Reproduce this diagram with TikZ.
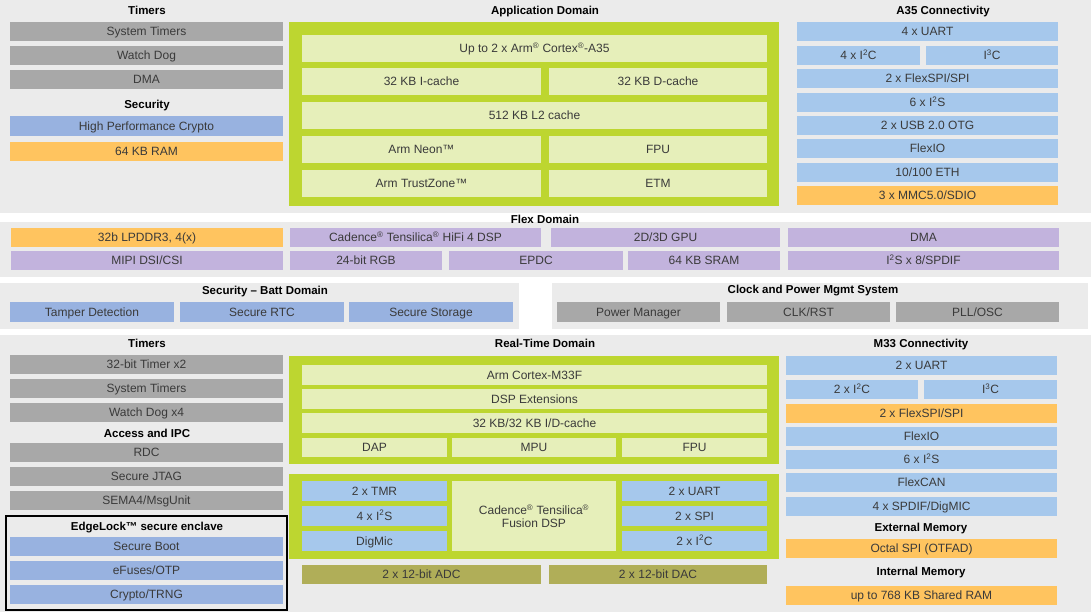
\documentclass[tikz,border=0pt]{standalone}
\usepackage{fontspec}
\setmainfont{Liberation Sans}
\begin{document}
\definecolor{pan}{HTML}{EBEBEB}
\definecolor{gbox}{HTML}{A8A8A8}
\definecolor{cblue}{HTML}{A6C8EC}
\definecolor{sblue}{HTML}{98B2E0}
\definecolor{purp}{HTML}{C2B3DD}
\definecolor{oran}{HTML}{FFC45F}
\definecolor{grn}{HTML}{BDD630}
\definecolor{pale}{HTML}{E6EFBA}
\definecolor{oliv}{HTML}{B0AE58}
\definecolor{txt}{HTML}{3A3A3A}
\newcommand\bx[7]{\node[box,#6,minimum width={(#4-#2)*1pt},minimum height={(#5-#3)*1pt}] (#1) at ({(#2+#4)/2},{(#3+#5)/2}) {#7};}
\newcommand\ttl[4]{\node[title] (#1) at (#2,#3) {#4};}
\newcommand\sq[1]{\textsuperscript{#1}}
\begin{tikzpicture}[x=1pt,y=-1pt,
  box/.style={inner sep=0pt,outer sep=0pt,text=txt,font=\fontsize{12}{12}\selectfont,align=center,text height=8.6pt,text depth=0.4pt},
  gray/.style={fill=gbox},cb/.style={fill=cblue},sb/.style={fill=sblue},
  pu/.style={fill=purp},or/.style={fill=oran},pl/.style={fill=pale},ol/.style={fill=oliv},
  gr/.style={fill=grn},panel/.style={fill=pan},
  title/.style={font=\bfseries\fontsize{11.5}{12}\selectfont,text=black,inner sep=0pt,text height=8.3pt,text depth=0.4pt}]
\fill[white] (0,0) rectangle (1091,615);
\useasboundingbox (0,0) rectangle (1091,615);
% panels
\bx{p1}{0}{0}{1091}{213}{panel}{}
\bx{p2}{0}{222}{1091}{277}{panel}{}
\bx{p3}{0}{283}{519}{329}{panel}{}
\bx{p4}{552}{283}{1088}{329}{panel}{}
\bx{p5}{0}{335}{1091}{612}{panel}{}
% top left
\ttl{t1}{147}{11}{Timers}
\bx{a1}{10}{22}{283}{41}{gray}{System Timers}
\bx{a2}{10}{46}{283}{65}{gray}{Watch Dog}
\bx{a3}{10}{70}{283}{89}{gray}{DMA}
\ttl{t2}{147}{105}{Security}
\bx{a4}{10}{116}{283}{136}{sb}{High Performance Crypto}
\bx{a5}{10}{142}{283}{161}{or}{64 KB RAM}
% application domain
\ttl{t3}{545}{11}{Application Domain}
\bx{g1}{289}{22}{779}{206}{gr}{}
\bx{b1}{302}{35}{767}{62}{pl}{Up to 2 x Arm\sq{®} Cortex\sq{®}-A35}
\bx{b2}{302}{68}{541}{95}{pl}{32 KB I-cache}
\bx{b3}{549}{68}{767}{95}{pl}{32 KB D-cache}
\bx{b4}{302}{102}{767}{129}{pl}{512 KB L2 cache}
\bx{b5}{302}{136}{541}{163}{pl}{Arm Neon™}
\bx{b6}{549}{136}{767}{163}{pl}{FPU}
\bx{b7}{302}{170}{541}{197}{pl}{Arm TrustZone™}
\bx{b8}{549}{170}{767}{197}{pl}{ETM}
% A35 connectivity
\ttl{t4}{943}{11}{A35 Connectivity}
\bx{c1}{797}{22}{1058}{41}{cb}{4 x UART}
\bx{c2}{797}{46}{920}{65}{cb}{4 x I\sq{2}C}
\bx{c3}{926}{46}{1058}{65}{cb}{I\sq{3}C}
\bx{c4}{797}{69}{1058}{88}{cb}{2 x FlexSPI/SPI}
\bx{c5}{797}{93}{1058}{112}{cb}{6 x I\sq{2}S}
\bx{c6}{797}{116}{1058}{135}{cb}{2 x USB 2.0 OTG}
\bx{c7}{797}{139}{1058}{158}{cb}{FlexIO}
\bx{c8}{797}{163}{1058}{182}{cb}{10/100 ETH}
\bx{c9}{797}{186}{1058}{205}{or}{3 x MMC5.0/SDIO}
% flex domain
\ttl{t5}{545}{220}{Flex Domain}
\bx{f1}{11}{228}{283}{247}{or}{32b LPDDR3, 4(x)}
\bx{f2}{290}{228}{541}{247}{pu}{Cadence\sq{®} Tensilica\sq{®} HiFi 4 DSP}
\bx{f3}{551}{228}{780}{247}{pu}{2D/3D GPU}
\bx{f4}{788}{228}{1059}{247}{pu}{DMA}
\bx{f5}{11}{251}{283}{270}{pu}{MIPI DSI/CSI}
\bx{f6}{290}{251}{442}{270}{pu}{24-bit RGB}
\bx{f7}{449}{251}{623}{270}{pu}{EPDC}
\bx{f8}{628}{251}{780}{270}{pu}{64 KB SRAM}
\bx{f9}{788}{251}{1059}{270}{pu}{I\sq{2}S x 8/SPDIF}
% security batt
\ttl{t6}{265}{291}{Security – Batt Domain}
\bx{s1}{10}{302}{174}{322}{sb}{Tamper Detection}
\bx{s2}{180}{302}{344}{322}{sb}{Secure RTC}
\bx{s3}{349}{302}{513}{322}{sb}{Secure Storage}
% clock
\ttl{t7}{813}{290}{Clock and Power Mgmt System}
\bx{k1}{557}{302}{720}{322}{gray}{Power Manager}
\bx{k2}{727}{302}{890}{322}{gray}{CLK/RST}
\bx{k3}{896}{302}{1059}{322}{gray}{PLL/OSC}
% bottom left
\ttl{t8}{147}{344}{Timers}
\bx{d1}{10}{355}{283}{374}{gray}{32-bit Timer x2}
\bx{d2}{10}{379}{283}{398}{gray}{System Timers}
\bx{d3}{10}{403}{283}{422}{gray}{Watch Dog x4}
\ttl{t9}{147}{434}{Access and IPC}
\bx{d4}{10}{443}{283}{462}{gray}{RDC}
\bx{d5}{10}{467}{283}{486}{gray}{Secure JTAG}
\bx{d6}{10}{491}{283}{510}{gray}{SEMA4/MsgUnit}
\draw[black,line width=1.2pt] (6,516) rectangle (287,610);
\ttl{t10}{147}{527}{EdgeLock™ secure enclave}
\bx{e1}{10}{537}{283}{556}{sb}{Secure Boot}
\bx{e2}{10}{561}{283}{580}{sb}{eFuses/OTP}
\bx{e3}{10}{585}{283}{604}{sb}{Crypto/TRNG}
% real-time domain
\ttl{t11}{545}{344}{Real-Time Domain}
\bx{g2}{289}{356}{779}{464}{gr}{}
\bx{r1}{302}{365}{767}{385}{pl}{Arm Cortex-M33F}
\bx{r2}{302}{389}{767}{409}{pl}{DSP Extensions}
\bx{r3}{302}{413}{767}{433}{pl}{32 KB/32 KB I/D-cache}
\bx{r4}{302}{438}{447}{457}{pl}{DAP}
\bx{r5}{452}{438}{616}{457}{pl}{MPU}
\bx{r6}{622}{438}{767}{457}{pl}{FPU}
\bx{g3}{289}{474}{779}{559}{gr}{}
\bx{q1}{302}{481}{447}{501}{cb}{2 x TMR}
\bx{q2}{302}{506}{447}{526}{cb}{4 x I\sq{2}S}
\bx{q3}{302}{531}{447}{551}{cb}{DigMic}
\bx{q4}{452}{481}{616}{551}{pl,text height={},text depth={},font=\fontsize{12}{13}\selectfont}{Cadence\sq{®} Tensilica\sq{®}\\Fusion DSP}
\bx{q5}{622}{481}{767}{501}{cb}{2 x UART}
\bx{q6}{622}{506}{767}{526}{cb}{2 x SPI}
\bx{q7}{622}{531}{767}{551}{cb}{2 x I\sq{2}C}
\bx{q8}{302}{565}{541}{584}{ol}{2 x 12-bit ADC}
\bx{q9}{549}{565}{767}{584}{ol}{2 x 12-bit DAC}
% M33 connectivity
\ttl{t12}{921}{344}{M33 Connectivity}
\bx{m1}{786}{356}{1057}{375}{cb}{2 x UART}
\bx{m2}{786}{380}{918}{399}{cb}{2 x I\sq{2}C}
\bx{m3}{924}{380}{1057}{399}{cb}{I\sq{3}C}
\bx{m4}{786}{404}{1057}{423}{or}{2 x FlexSPI/SPI}
\bx{m5}{786}{427}{1057}{446}{cb}{FlexIO}
\bx{m6}{786}{450}{1057}{469}{cb}{6 x I\sq{2}S}
\bx{m7}{786}{473}{1057}{492}{cb}{FlexCAN}
\bx{m8}{786}{497}{1057}{516}{cb}{4 x SPDIF/DigMIC}
\ttl{t13}{921}{528}{External Memory}
\bx{m9}{786}{539}{1057}{558}{or}{Octal SPI (OTFAD)}
\ttl{t14}{921}{572}{Internal Memory}
\bx{m10}{786}{586}{1057}{605}{or}{up to 768 KB Shared RAM}
\end{tikzpicture}
\end{document}
